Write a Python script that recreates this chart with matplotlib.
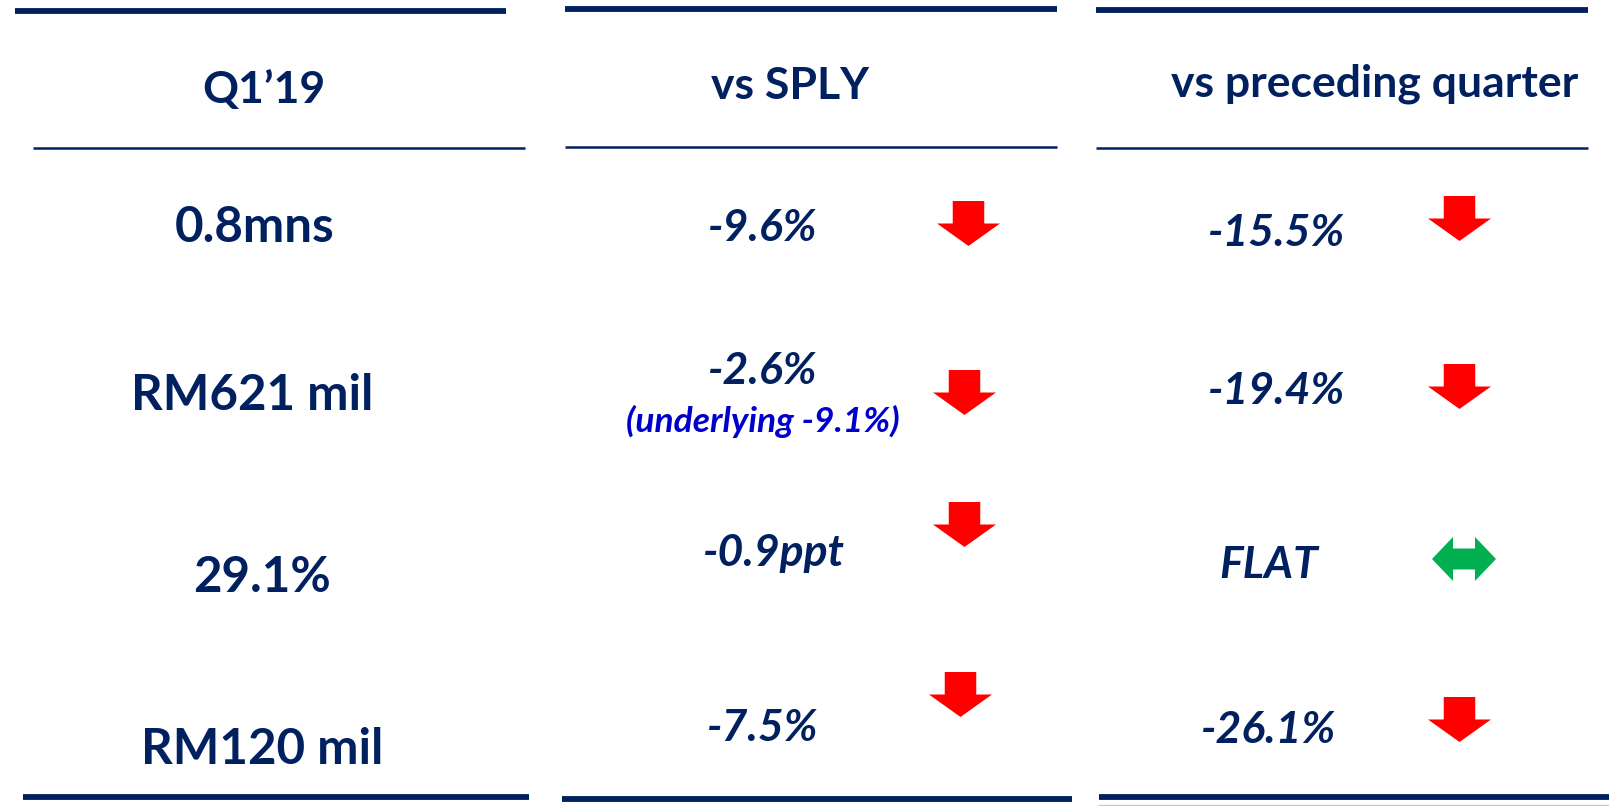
import matplotlib
matplotlib.use("Agg")
import matplotlib.pyplot as plt
from matplotlib.patches import Polygon

# ---- data ----
headers = ["Q1\u201919", "vs SPLY", "vs preceding quarter"]
q1_values = ["0.8mns", "RM621 mil", "29.1%", "RM120 mil"]
sply_values = ["-9.6%", "-2.6%", "-0.9ppt", "-7.5%"]
sply_notes = ["", "(underlying -9.1%)", "", ""]
sply_dirs = ["down", "down", "down", "down"]
pq_values = ["-15.5%", "-19.4%", "FLAT", "-26.1%"]
pq_dirs = ["down", "down", "flat", "down"]

# ---- layout (pixel coordinates) ----
W, H = 1609, 806
NAVY = "#002060"
RED = "#FF0000"
GREEN = "#00B050"
BLUE = "#0000CC"
FONT = ["Lato", "DejaVu Sans"]

fig = plt.figure(figsize=(W / 100, H / 100), dpi=100)
ax = fig.add_axes([0, 0, 1, 1])
ax.set_xlim(0, W)
ax.set_ylim(H, 0)
ax.axis("off")

# column geometry
top_lines = [(15, 506, 11), (565, 1057, 9), (1096, 1588, 10)]
head_lines = [(33, 525, 148), (565, 1057, 147), (1096, 1588, 148)]
bot_lines = [(23, 529, 797), (562, 1072, 799), (1099, 1609, 797)]
for x0, x1, y in top_lines:
    ax.plot([x0, x1], [y, y], color=NAVY, lw=4.2, solid_capstyle="butt")
for x0, x1, y in head_lines:
    ax.plot([x0, x1], [y, y], color=NAVY, lw=1.8, solid_capstyle="butt")
for x0, x1, y in bot_lines:
    ax.plot([x0, x1], [y, y], color=NAVY, lw=4.2, solid_capstyle="butt")
ax.plot([1099, 1609], [805, 805], color="#C8C8D4", lw=1.0)

# headers
head_pos = [(264, 90), (790, 86), (1375, 84)]
for txt, (x, y) in zip(headers, head_pos):
    ax.text(x, y, txt, ha="center", va="center", color=NAVY,
            fontsize=32, fontweight="bold", family=FONT)

# column 1 values
q1_pos = [(255, 227), (252, 396), (262, 578), (262, 750)]
for txt, (x, y) in zip(q1_values, q1_pos):
    ax.text(x, y, txt, ha="center", va="center", color=NAVY,
            fontsize=35.5, fontweight="bold", family=FONT)

# column 2 values
sply_pos = [(763, 228), (763, 371), (774, 553), (763, 728)]
for txt, (x, y) in zip(sply_values, sply_pos):
    ax.text(x, y, txt, ha="center", va="center", color=NAVY,
            fontsize=32, fontweight="bold", style="italic", family=FONT)
note_pos = [None, (763, 421), None, None]
for txt, p in zip(sply_notes, note_pos):
    if txt:
        ax.text(p[0], p[1], txt, ha="center", va="center", color=BLUE,
                fontsize=25.5, fontweight="bold", style="italic", family=FONT)

# column 3 values
pq_pos = [(1277, 233), (1277, 391), (1269, 565), (1269, 730)]
for txt, (x, y) in zip(pq_values, pq_pos):
    ax.text(x, y, txt, ha="center", va="center", color=NAVY,
            fontsize=32, fontweight="bold", style="italic", family=FONT)


def down_arrow(x0, y0, w=63, h=45):
    sw = w * 0.5
    hh = h * 0.5
    cx = x0 + w / 2
    pts = [(cx - sw / 2, y0), (cx + sw / 2, y0), (cx + sw / 2, y0 + h - hh),
           (x0 + w, y0 + h - hh), (cx, y0 + h), (x0, y0 + h - hh),
           (cx - sw / 2, y0 + h - hh)]
    ax.add_patch(Polygon(pts, closed=True, color=RED, lw=0))


def flat_arrow(x0, y0, w=64, h=44):
    cy = y0 + h / 2
    sh = 21
    hw = 21
    pts = [(x0, cy), (x0 + hw, y0), (x0 + hw, cy - sh / 2),
           (x0 + w - hw, cy - sh / 2), (x0 + w - hw, y0), (x0 + w, cy),
           (x0 + w - hw, y0 + h), (x0 + w - hw, cy + sh / 2),
           (x0 + hw, cy + sh / 2), (x0 + hw, y0 + h)]
    ax.add_patch(Polygon(pts, closed=True, color=GREEN, lw=0))


sply_arrow_pos = [(937, 201), (933, 370), (933, 502), (929, 672)]
pq_arrow_pos = [(1428, 196), (1428, 364), (1432, 537), (1428, 697)]
for d, (x, y) in zip(sply_dirs, sply_arrow_pos):
    if d == "down":
        down_arrow(x, y)
    else:
        flat_arrow(x, y)
for d, (x, y) in zip(pq_dirs, pq_arrow_pos):
    if d == "down":
        down_arrow(x, y)
    else:
        flat_arrow(x, y)

fig.savefig("out.png", dpi=100, facecolor="white")
